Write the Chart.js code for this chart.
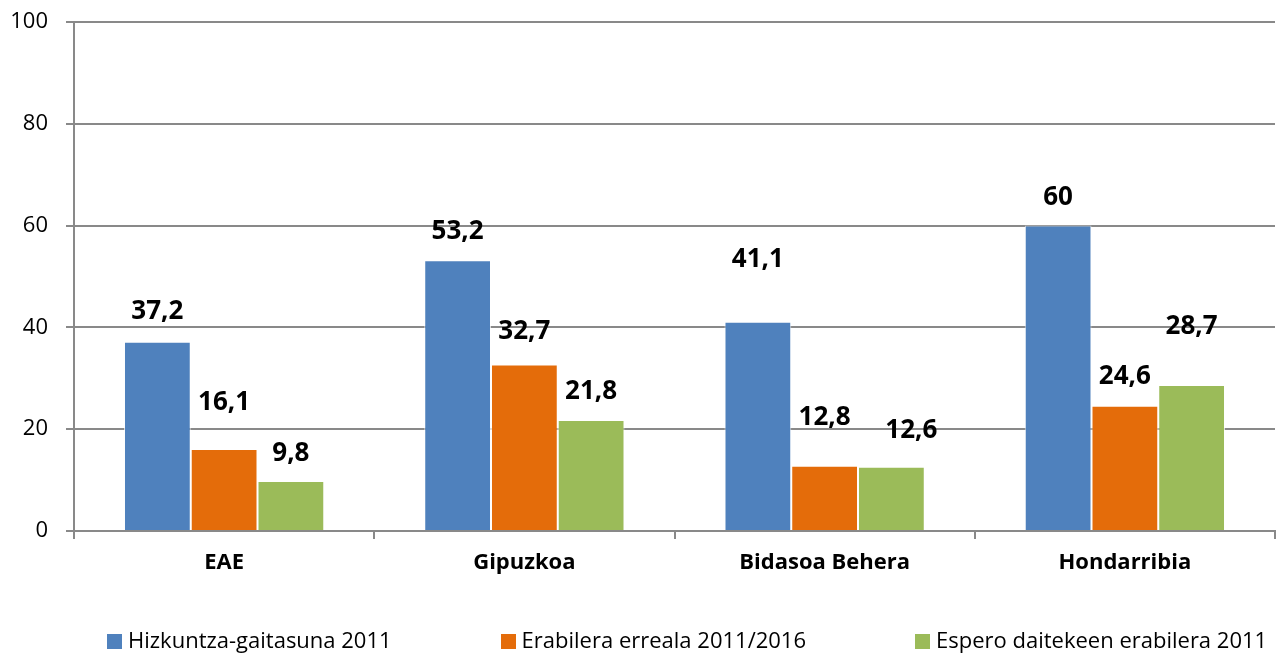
<!DOCTYPE html>
<html>
<head>
<meta charset="utf-8">
<script src="https://cdn.jsdelivr.net/npm/chart.js@4/dist/chart.umd.min.js"></script>
<style>
    body { margin: 0; background: #fff; }
    #wrap { position: relative; width: 1283px; height: 655px; }
    #legend { position: absolute; left: 107px; top: 624px; display: flex; gap: 109px;
              font-family: "Open Sans", sans-serif; font-size: 22px; color: #000; white-space: nowrap; }
    #legend span.box { display: inline-block; width: 15px; height: 15px; margin-right: 6px; vertical-align: -1px; }
</style>
</head>
<body>
<div id="wrap">
    <canvas id="myBarChart" width="1283" height="655"></canvas>
    <div id="legend"></div>
</div>
<script>
// Data
var regions = ["EAE", "Gipuzkoa", "Bidasoa Behera", "Hondarribia"];
var seriesNames = ["Hizkuntza-gaitasuna 2011", "Erabilera erreala 2011/2016", "Espero daitekeen erabilera 2011"];
var gaitasuna = [37.2, 53.2, 41.1, 60];
var erabilera = [16.1, 32.7, 12.8, 24.6];
var espero = [9.8, 21.8, 12.6, 28.7];
var yTicks = [0, 20, 40, 60, 80, 100];

var colors = ['#4F81BD', '#E46C0A', '#9BBB59'];

// how far each value label sits above its bar (px), as placed in the original
var labelLift = [[30, 29, 62, 28], [46, 33, 48, 29], [28, 28, 36, 58]];
var labelShift = [[0, 0, 0, 0], [0, 0, 0, 0], [0, 0, 20, 0]];

// value labels with comma decimals
var valueLabels = {
    id: 'valueLabels',
    afterDatasetsDraw(chart) {
        var ctx = chart.ctx;
        ctx.save();
        ctx.font = 'bold 26px "Open Sans", sans-serif';
        ctx.fillStyle = '#000';
        ctx.textAlign = 'center';
        ctx.textBaseline = 'middle';
        chart.data.datasets.forEach(function (ds, i) {
            chart.getDatasetMeta(i).data.forEach(function (bar, j) {
                var txt = String(ds.data[j]).replace('.', ',');
                ctx.fillText(txt, bar.x + labelShift[i][j], bar.y - labelLift[i][j]);
            });
        });
        ctx.restore();
    }
};

var ctx = document.getElementById('myBarChart').getContext('2d');
var BarChart = new Chart(ctx, {
    type: 'bar',
    data: {
        labels: regions,
        datasets: [gaitasuna, erabilera, espero].map(function (vals, i) {
            return {
                label: seriesNames[i],
                data: vals,
                backgroundColor: colors[i],
                borderColor: 'rgba(255,255,255,0.7)',
                borderWidth: 1,
                categoryPercentage: 0.667,
                barPercentage: 1
            };
        })
    },
    options: {
        responsive: false,
        animation: false,
        layout: { padding: { top: 22, right: 8, left: 0, bottom: 0 } },
        plugins: { legend: { display: false }, tooltip: { enabled: false } },
        scales: {
            y: {
                min: 0,
                max: 100,
                afterBuildTicks: function (axis) { axis.ticks = yTicks.map(v => ({ value: v })); },
                afterFit: function (axis) {
                    axis.width = 74;
                    axis.paddingTop = 0;
                    axis.paddingBottom = 0;
                },
                ticks: { font: { family: '"Open Sans", sans-serif', size: 22 }, color: '#000', padding: 18 },
                grid: { color: '#898989', lineWidth: 2, tickLength: 8 },
                border: { color: '#898989', width: 2 }
            },
            x: {
                afterFit: function (axis) { axis.height = 124; },
                ticks: { font: { family: '"Open Sans", sans-serif', size: 22, weight: 'bold' }, color: '#000', padding: 11 },
                grid: { drawOnChartArea: false, color: '#898989', lineWidth: 2, tickLength: 8 },
                border: { color: '#898989', width: 2 }
            }
        }
    },
    plugins: [valueLabels]
});

// Legend
var legend = document.getElementById('legend');
BarChart.data.datasets.forEach(function (ds) {
    var item = document.createElement('div');
    item.innerHTML = '<span class="box" style="background:' + ds.backgroundColor + '"></span>' + ds.label;
    legend.appendChild(item);
});
</script>
</body>
</html>
